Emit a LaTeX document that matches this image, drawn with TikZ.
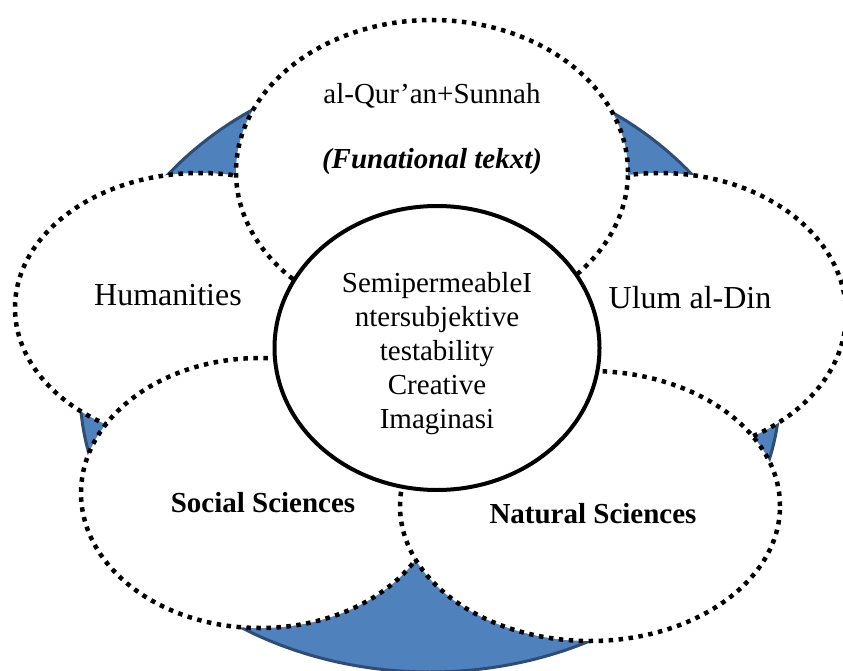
\documentclass[tikz,border=0pt]{standalone}
\usepackage{fontspec}
\setmainfont{Liberation Serif}
\usetikzlibrary{shapes.geometric}
\definecolor{ringblue}{HTML}{4F81BD}
\definecolor{ringedge}{HTML}{2F4C75}
\begin{document}
\begin{tikzpicture}[x=1pt,y=-1pt,
  petal/.style={ellipse, draw=black, fill=white, line width=4.5pt,
    dash pattern=on 4.5pt off 5.5pt, inner sep=0pt, outer sep=0pt},
  core/.style={ellipse, draw=black, fill=white, line width=4pt, inner sep=0pt, outer sep=0pt},
  lbl/.style={font=\fontsize{29}{34}\selectfont, align=center, inner sep=0pt},
  big/.style={font=\fontsize{32}{36}\selectfont, inner sep=0pt},
  bl/.style={font=\fontsize{29}{34}\selectfont\bfseries, inner sep=0pt}]
\useasboundingbox (0,0) rectangle (843,671);
\clip (0,0) rectangle (843,671);
\fill[white] (0,0) rectangle (843,671);
% blue ring behind
\filldraw[fill=ringblue, draw=ringedge, line width=3pt]
  (80,390) arc[start angle=180, end angle=0, x radius=350pt, y radius=325pt]
  arc[start angle=0, end angle=-180, x radius=350pt, y radius=282pt] -- cycle;
% petals
\node[petal, minimum width=370pt, minimum height=270pt] (hum) at (200,308) {};
\node[petal, minimum width=372pt, minimum height=282pt] (ulum) at (660,314) {};
\node[petal, minimum width=392pt, minimum height=304pt] (quran) at (432,172) {};
\node[petal, minimum width=358pt, minimum height=270pt] (soc) at (260,493) {};
\node[petal, minimum width=380pt, minimum height=270pt] (nat) at (590,506) {};
\node[core, minimum width=325pt, minimum height=284pt] (core) at (437,348) {};
% texts
\node[lbl, anchor=base] (tq1) at (432,104) {al-Qur’an+Sunnah};
\node[lbl, anchor=base, font=\fontsize{29}{34}\selectfont\bfseries\itshape] (tq2) at (432,169) {(Funational tekxt)};
\node[big, anchor=base] (th) at (168,305) {Humanities};
\node[big, anchor=base] (tu) at (690,308) {Ulum al-Din};
\node[bl, anchor=base] (ts) at (263,512) {Social Sciences};
\node[bl, anchor=base] (tn) at (593,523) {Natural Sciences};
\node[lbl] (tc) at (437,354) {SemipermeableI\\ntersubjektive\\testability\\Creative\\Imaginasi};
\end{tikzpicture}
\end{document}
